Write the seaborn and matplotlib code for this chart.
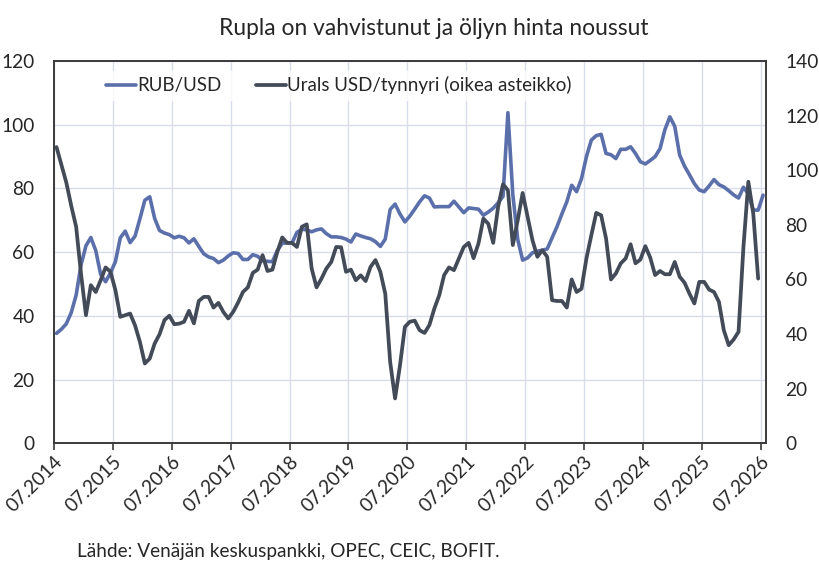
import numpy as np
import pandas as pd
import matplotlib
matplotlib.use("Agg")
import matplotlib.pyplot as plt
import seaborn as sns

# Monthly data, first month 07.2014
rub_usd = [
    34.5, 35.8, 37.5, 41.0, 46.5, 56.0, 62.0, 64.6, 60.5, 53.0, 50.7, 53.5,
    57.0, 64.5, 66.6, 63.0, 65.0, 70.5, 76.3, 77.4, 70.6, 66.8, 66.0, 65.5,
    64.5, 65.0, 64.5, 62.9, 64.2, 61.8, 59.5, 58.5, 58.0, 56.7, 57.5, 58.8,
    59.8, 59.6, 57.7, 57.7, 59.2, 58.7, 57.3, 57.1, 57.0, 60.5, 62.8, 62.9,
    62.9, 66.2, 67.2, 67.0, 66.4, 67.0, 67.3, 65.8, 64.8, 64.8, 64.6, 64.1,
    63.2, 65.7, 65.1, 64.6, 64.2, 63.3, 61.8, 64.1, 73.4, 75.1, 72.0, 69.5,
    71.3, 73.5, 75.8, 77.7, 77.0, 74.2, 74.3, 74.3, 74.3, 76.0, 74.2, 72.4,
    73.9, 73.7, 73.5, 71.6, 72.6, 73.8, 75.5, 77.5, 103.8, 78.0, 64.0, 57.5,
    58.2, 59.8, 60.3, 60.6, 61.0, 64.5, 68.0, 72.0, 75.8, 81.0, 79.0, 83.1,
    90.0, 95.2, 96.6, 97.0, 91.0, 90.6, 89.4, 92.3, 92.3, 93.1, 91.0, 88.4,
    87.7, 88.8, 90.0, 92.5, 98.5, 102.5, 99.5, 90.5, 87.0, 84.3, 81.5, 79.5,
    79.0, 80.8, 82.8, 81.2, 80.5, 79.3, 78.0, 77.0, 80.4, 78.3, 73.2, 73.2,
    77.9,
]

urals = [
    108.5, 102.0, 95.5, 87.0, 79.3, 62.0, 46.9, 57.9, 55.4, 59.7, 64.4, 62.8,
    56.1, 46.3, 46.9, 47.5, 43.2, 37.1, 29.2, 31.0, 36.5, 39.9, 45.1, 46.7,
    43.6, 43.8, 44.5, 48.5, 43.9, 52.1, 53.6, 53.6, 49.7, 51.4, 48.1, 45.7,
    48.1, 51.5, 55.4, 57.1, 62.4, 63.6, 68.9, 63.1, 63.6, 70.1, 75.4, 73.4,
    73.4, 71.9, 79.3, 80.2, 64.0, 57.1, 60.3, 64.0, 66.4, 71.9, 71.8, 62.8,
    63.6, 59.7, 61.5, 59.4, 64.6, 67.1, 62.8, 54.8, 29.8, 16.4, 28.5, 42.6,
    44.5, 44.9, 41.4, 40.4, 43.3, 49.3, 54.2, 61.6, 64.4, 63.4, 67.7, 71.9,
    73.4, 67.8, 73.2, 82.3, 80.4, 73.4, 86.6, 94.9, 92.7, 72.6, 81.7, 91.7,
    83.0, 74.4, 68.3, 70.7, 68.3, 52.4, 52.1, 52.1, 49.7, 60.0, 55.4, 56.6,
    67.7, 76.2, 84.4, 83.5, 75.0, 60.0, 62.2, 65.9, 67.7, 72.9, 65.9, 67.3,
    72.2, 68.0, 61.6, 63.1, 61.9, 61.9, 66.4, 61.0, 58.8, 54.8, 51.2, 59.1,
    59.1, 56.3, 55.4, 51.8, 41.4, 35.9, 38.0, 40.8, 71.9, 95.8, 84.2, 60.3,
]

tick_labels = ["07.2014", "07.2015", "07.2016", "07.2017", "07.2018", "07.2019",
               "07.2020", "07.2021", "07.2022", "07.2023", "07.2024", "07.2025",
               "07.2026"]

title = "Rupla on vahvistunut ja öljyn hinta noussut"
source = "Lähde: Venäjän keskuspankki, OPEC, CEIC, BOFIT."

blue = "#5b6fab"
dark = "#434b59"
grid_col = "#d9dcea"
spine_col = "#3a3a3a"

df_rub = pd.DataFrame({"month": np.arange(len(rub_usd)) + 0.5, "value": rub_usd})
df_urals = pd.DataFrame({"month": np.arange(len(urals)) + 0.5, "value": urals})

sns.set_style("white")
plt.rcParams["font.family"] = ["Lato", "DejaVu Sans"]

fig = plt.figure(figsize=(8.19, 5.66), dpi=100)
ax = fig.add_axes([0.066, 0.217, 0.8693, 0.675])
ax2 = ax.twinx()

sns.lineplot(data=df_rub, x="month", y="value", ax=ax, color=blue,
             linewidth=2.6, label="RUB/USD", legend=False)
sns.lineplot(data=df_urals, x="month", y="value", ax=ax2, color=dark,
             linewidth=2.7, label="Urals USD/tynnyri (oikea asteikko)", legend=False)

ax.set_xlim(0, 145.1)
ax.set_ylim(0, 120)
ax2.set_ylim(0, 140)
ax.set_yticks(np.arange(0, 121, 20))
ax2.set_yticks(np.arange(0, 141, 20))
ax.set_xticks(np.arange(0, 145, 12))
ax.set_xticklabels(tick_labels, rotation=45, ha="right", rotation_mode="anchor")

ax.grid(True, color=grid_col, linewidth=1.0)
ax.set_axisbelow(True)

for a in (ax, ax2):
    for s in a.spines.values():
        s.set_color(spine_col)
        s.set_linewidth(1.2)
    a.set_xlabel("")
    a.set_ylabel("")

ax.tick_params(axis="x", length=5, width=1.2, color=spine_col, labelsize=13.8,
               pad=2, bottom=True)
ax.tick_params(axis="y", length=0, labelsize=13.8, pad=14)
ax2.tick_params(axis="y", length=0, labelsize=13.8, pad=14)

h1, l1 = ax.get_legend_handles_labels()
h2, l2 = ax2.get_legend_handles_labels()
leg = ax2.legend(h1 + h2, l1 + l2, ncol=2, loc="center",
                 bbox_to_anchor=(0.40, 0.937), frameon=True, fontsize=13.5,
                 handlelength=1.6, handletextpad=0.1, columnspacing=1.8,
                 borderpad=0.3, fancybox=False)
leg.get_frame().set_facecolor("white")
leg.get_frame().set_edgecolor("white")

fig.text(0.529, 0.95, title, ha="center", va="center", fontsize=16.4)
fig.text(0.094, 0.025, source, ha="left", va="center", fontsize=13.7)

fig.savefig("out.png", dpi=100)
